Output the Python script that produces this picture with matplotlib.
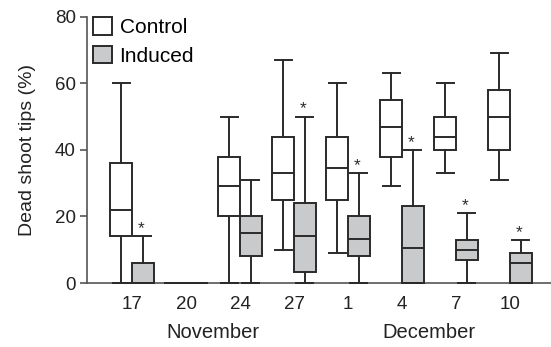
import matplotlib
matplotlib.use("Agg")
import matplotlib.pyplot as plt
from matplotlib.patches import Patch

plt.rcParams['font.family'] = ['Liberation Sans', 'DejaVu Sans']

# sampling dates
days = ["17", "20", "24", "27", "1", "4", "7", "10"]
months = ["November", "December"]

# Control: whisker low, Q1, median, Q3, whisker high (%)
ctrl_lo = [0, 0, 0, 10, 9, 29, 33, 31]
ctrl_q1 = [14, 0, 20, 25, 25, 38, 40, 40]
ctrl_med = [22, 0, 29, 33, 34.4, 47, 44, 50]
ctrl_q3 = [36, 0, 38, 44, 44, 55, 50, 58]
ctrl_hi = [60, 0, 50, 67, 60, 63, 60, 69]

# Induced
ind_lo = [0, 0, 0, 0, 0, 0, 0, 0]
ind_q1 = [0, 0, 8, 3.4, 8, 0, 7, 0]
ind_med = [0, 0, 15, 14, 13.2, 10.5, 10, 6]
ind_q3 = [6, 0, 20, 24, 20, 23, 13, 9]
ind_hi = [14, 0, 31, 50, 33, 40, 21, 13]

# significance marks on induced
signif = [True, False, False, True, True, True, True, True]

line_c = "#2a2a2a"
fill_c = "#c9cacc"
lw = 1.4


def make_stats(lo, q1, med, q3, hi):
    return [dict(whislo=a, q1=b, med=c, q3=d, whishi=e, fliers=[])
            for a, b, c, d, e in zip(lo, q1, med, q3, hi)]


fig = plt.figure(figsize=(5.51, 3.47), dpi=100)
ax = fig.add_axes([0.158, 0.1844, 0.842, 0.7675])

pos = list(range(len(days)))
common = dict(widths=0.4, capwidths=0.31, patch_artist=True, showfliers=False,
              zorder=3,
              whiskerprops=dict(color=line_c, lw=lw),
              capprops=dict(color=line_c, lw=lw),
              medianprops=dict(color=line_c, lw=lw))

parts = []
parts.append(ax.bxp(make_stats(ctrl_lo, ctrl_q1, ctrl_med, ctrl_q3, ctrl_hi),
                    positions=[p - 0.2 for p in pos],
                    boxprops=dict(facecolor="white", edgecolor=line_c, lw=lw),
                    **common))
parts.append(ax.bxp(make_stats(ind_lo, ind_q1, ind_med, ind_q3, ind_hi),
                    positions=[p + 0.2 for p in pos],
                    boxprops=dict(facecolor=fill_c, edgecolor=line_c, lw=lw),
                    **common))
# let the zero-height boxes sit on top of the axis line
for d in parts:
    for arts in d.values():
        for a in arts:
            a.set_clip_on(False)

for p, s, h in zip(pos, signif, ind_hi):
    if s:
        ax.annotate("*", (p + 0.2, h), xytext=(-1, 0), textcoords="offset points",
                    ha="center", va="bottom", fontsize=12.5, color=line_c)

ax.set_xlim(-0.833, 7.76)
ax.set_ylim(0, 80)
ax.set_yticks([0, 20, 40, 60, 80])
ax.set_xticks(pos)
ax.set_xticklabels(days)
ax.tick_params(axis="x", length=0, pad=9, labelsize=13.5, labelcolor="#222222")
ax.tick_params(axis="y", length=5, width=1.2, direction="out", pad=3,
               labelsize=13.5, labelcolor="#222222", color="#555555")
for side in ["top", "right"]:
    ax.spines[side].set_visible(False)
for side in ["left", "bottom"]:
    ax.spines[side].set_color("#555555")
    ax.spines[side].set_linewidth(1.2)
ax.set_ylabel("Dead shoot tips (%)", fontsize=14, color="#222222", labelpad=14)

ax.text(1.5, -0.185, months[0], transform=ax.get_xaxis_transform(),
        ha="center", va="center", fontsize=14.5, color="#222222")
ax.text(5.5, -0.185, months[1], transform=ax.get_xaxis_transform(),
        ha="center", va="center", fontsize=14.5, color="#222222")

handles = [Patch(facecolor="white", edgecolor=line_c, lw=lw, label="Control"),
           Patch(facecolor=fill_c, edgecolor=line_c, lw=lw, label="Induced")]
ax.legend(handles=handles, loc="upper left", bbox_to_anchor=(0.012, 0.997),
          frameon=False, fontsize=15, handlelength=0.92, handleheight=0.92,
          handletextpad=0.37, labelspacing=0.4, borderpad=0, borderaxespad=0)

fig.savefig("out.png", dpi=100)
